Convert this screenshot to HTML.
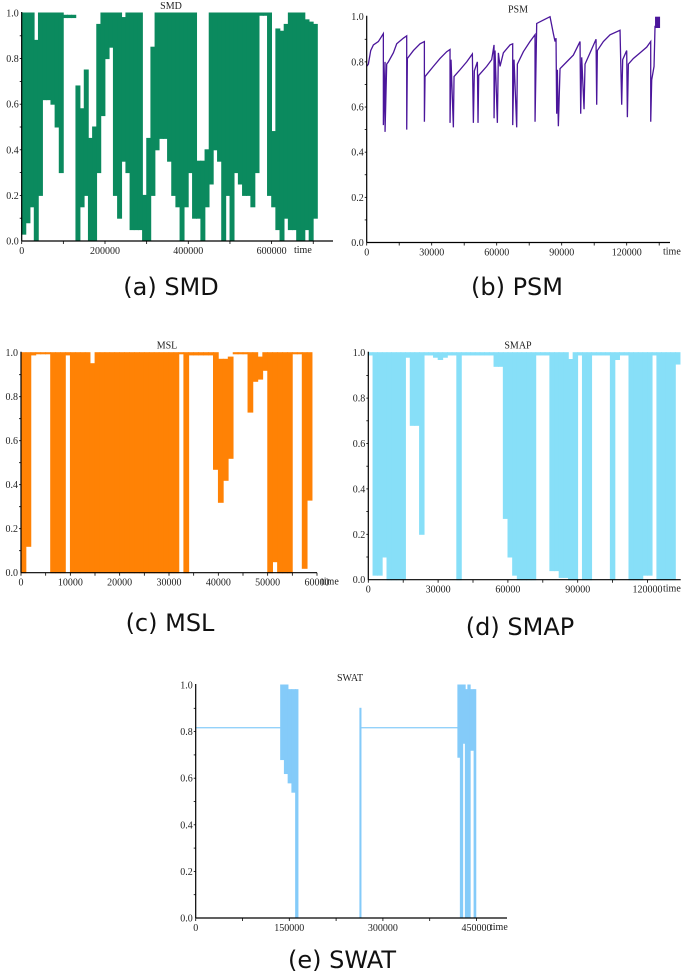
<!DOCTYPE html>
<html><head><meta charset="utf-8">
<style>
html,body{margin:0;padding:0;background:#fff;}
svg{display:block;}
.tk{font-family:"Liberation Serif",serif;font-size:10px;fill:#222;}
.cap{font-family:"DejaVu Sans",sans-serif;font-size:24px;fill:#111;}
</style></head>
<body>
<svg id="fig" width="685" height="976" viewBox="0 0 685 976" xmlns="http://www.w3.org/2000/svg"></svg>
<script>
// ---------- data ----------
const smdT = [];
for (let i = 0; i < 71; i++) smdT.push(i * 10000);
const smdLo = [0.03,0.08,0.15,0.0,0.2,0.62,0.62,0.6,0.5,0.3,0.98,0.98,0.98,0.0,0.15,0.2,0.0,0.0,0.3,0.55,0.8,0.85,0.2,0.1,0.35,0.3,0.05,0.05,0.05,0.0,0.0,0.2,0.4,0.45,0.45,0.35,0.2,0.15,0.0,0.15,0.3,0.1,0.1,0.0,0.15,0.25,0.4,0.35,0.0,0.2,0.0,0.3,0.25,0.2,0.2,0.15,0.3,0.99,0.99,0.2,0.15,0.05,0.0,0.1,0.05,0.05,0.0,0.0,0.05,0.0,0.1];
const smdHi = [1,1,1,0.88,1,1,1,1,1,1,0.99,0.99,0.99,0.68,0.58,0.75,0.45,0.5,0.95,1,1,1,1,1,0.98,1,1,1,1,0.2,0.45,0.85,1,1,1,1,1,1,1,1,1,1,0.35,0.35,0.4,1,1,1,1,1,1,1,1,1,1,1,1,1,1,1,0.48,0.93,0.92,0.95,1,1,1,1,0.97,0.96,0.95];

const psmT = [0,770,1850,3080,5380,7690,7700,8460,8470,9230,10000,12310,13850,16920,18460,18470,18770,21540,24620,26620,26630,26920,30770,33850,36920,38460,38470,38920,40000,40310,43080,46150,48770,49230,49690,51080,51380,51690,55380,57690,58770,58780,59230,60310,60770,61540,63080,66150,67380,67390,68000,69230,69540,72310,75380,77690,77700,78460,81540,84620,86150,86920,87380,87690,88000,88460,89230,92310,95380,98460,98770,99230,100310,100770,103080,105850,106150,106460,109230,112310,116920,117690,118150,120000,120310,120770,123080,126150,129230,131080,131090,131540,132620,133080];
const psmV = [0.78,0.79,0.85,0.875,0.89,0.925,0.52,0.80,0.49,0.79,0.80,0.84,0.88,0.905,0.915,0.50,0.815,0.85,0.88,0.89,0.535,0.735,0.78,0.815,0.845,0.855,0.53,0.81,0.51,0.735,0.765,0.80,0.835,0.53,0.76,0.80,0.53,0.74,0.78,0.81,0.875,0.55,0.85,0.53,0.84,0.78,0.84,0.875,0.88,0.52,0.81,0.51,0.79,0.845,0.89,0.92,0.535,0.97,0.985,1.0,0.925,0.89,0.905,0.57,0.765,0.515,0.77,0.80,0.83,0.89,0.57,0.82,0.59,0.79,0.84,0.90,0.61,0.85,0.89,0.92,0.94,0.61,0.81,0.85,0.555,0.79,0.815,0.84,0.865,0.89,0.535,0.72,0.78,0.96];
const psmBlockT = [133080, 135400];
const psmBlockV = [0.95, 1.0];

const mslT = [];
for (let i = 0; i < 59; i++) mslT.push(i * 1000);
const mslLo = [0,0.12,0.99,0.995,0.995,0.995,0,0,0,0.99,0,0,0,0,0,0,0,0,0,0,0,0,0,0,0,0,0,0,0,0,0,0,0.995,0,0.99,0.99,0.99,0.99,0.99,0.47,0.32,0.42,0.52,0.995,0.995,0.995,0.73,0.87,0.88,0.92,0,0.05,0,0,0,0.995,0.995,0.02,0.33];
const mslHi = [1,1,1,1,1,1,1,1,1,1,1,1,1,1,0.95,1,1,1,1,1,1,1,1,1,1,1,1,1,1,1,1,1,1,1,1,1,1,1,1,1,0.97,0.97,0.98,1,1,1,1,1,0.98,1,1,1,1,1,1,1,1,1,1];

const smapT = [];
for (let i = 0; i < 67; i++) smapT.push(i * 2000);
const smapLo = [0.99,0.02,0.02,0.1,0,0,0,0,0.98,0.68,0.68,0.2,0.99,0.99,0.98,0.97,0.98,0.99,0.99,0,0.99,0.99,0.99,0.99,0.99,0.99,0.99,0.94,0.94,0.27,0.1,0.02,0,0,0,0,0.99,0.99,0.99,0.04,0.04,0.01,0.01,0,0,0.99,0,0,0.99,0.99,0.99,0.99,0,0.97,0.99,0.99,0,0,0,0.02,0.02,0.99,0,0,0,0,0.95];
const smapHi = [1,1,1,1,1,1,1,1,1,1,1,1,1,1,1,1,1,1,1,1,1,1,1,1,1,1,1,1,1,1,1,1,1,1,1,1,1,1,1,1,1,1,1,0.97,1,1,1,1,1,1,1,1,1,1,1,1,1,1,1,1,1,1,1,1,1,1,1];

const swatT0 = [0,136000,142000,148000,154000,160000,263000,265000,420000,424000,428000,432000,436000,440000,446000];
const swatT1 = [136000,142000,148000,154000,160000,164000,265000,420000,424000,428000,432000,436000,440000,446000,449000];
const swatLo = [0.817,0.68,0.62,0.58,0.54,0.0,0.0,0.817,0.69,0.0,0.75,0.0,0.0,0.72,0.0];
const swatHi = [0.817,1.0,1.0,0.98,0.98,0.98,0.9,0.817,1.0,1.0,1.0,0.98,1.0,0.98,0.98];

const yTicks = [0,0.2,0.4,0.6,0.8,1.0];
const smdXTicks = [0,200000,400000,600000];
const psmXTicks = [0,30000,60000,90000,120000];
const mslXTicks = [0,10000,20000,30000,40000,50000,60000];
const smapXTicks = [0,30000,60000,90000,120000];
const swatXTicks = [0,150000,300000,450000];

// ---------- drawing ----------
const NS = "http://www.w3.org/2000/svg";
const svg = document.getElementById('fig');
function mk(tag, attrs, parent) {
  const e = document.createElementNS(NS, tag);
  for (const k in attrs) e.setAttribute(k, attrs[k]);
  (parent || svg).appendChild(e);
  return e;
}

function panel(cfg) {
  const g = mk('g', {});
  
  
  const X = t => cfg.x0 + t * cfg.k;
  const Y = v => cfg.yb + (cfg.yt - cfg.yb) * v;
  const sg = mk('g', {fill: cfg.color, stroke: 'none'}, g);
  
  
  if (cfg.bins) {
    const b = cfg.bins;
    for (let i = 0; i < b.t0.length; i++) {
      if (b.lo[i] === null) continue;
      const xa = X(b.t0[i]), xb = X(b.t1[i]);
      const ya = Y(b.hi[i]), yb2 = Y(b.lo[i]);
      const r = mk('rect', {x: xa - 0.4, y: ya - 0.5, width: Math.max(1, xb - xa + 0.8), height: Math.max(1.2, yb2 - ya + 1)}, sg);
      
      
    }
  }
  if (cfg.line) {
    const pts = cfg.line.t.map((t, i) => X(t).toFixed(2) + ',' + Y(cfg.line.v[i]).toFixed(2)).join(' ');
    const pl = mk('polyline', {points: pts, fill: 'none', stroke: cfg.color, 'stroke-width': 1.3}, sg);
    
    
  }
  if (cfg.block) {
    const r = mk('rect', {x: X(cfg.block.t[0]), y: Y(cfg.block.v[1]), width: X(cfg.block.t[1]) - X(cfg.block.t[0]), height: Y(cfg.block.v[0]) - Y(cfg.block.v[1])}, sg);
    
    
  }
  const ax = mk('g', {stroke: '#000', 'stroke-width': 1.2, fill: 'none'}, g);
  
  
  mk('line', {x1: cfg.x0, y1: cfg.yt - 1, x2: cfg.x0, y2: cfg.yb}, ax);
  mk('line', {x1: cfg.x0, y1: cfg.yb, x2: cfg.xe, y2: cfg.yb}, ax);
  for (let j = 1; j < 10; j++) {
    const yy = Y(j / 10);
    mk('line', {x1: cfg.x0 - 2, y1: yy, x2: cfg.x0, y2: yy, 'stroke-width': 0.8}, ax);
  }
  yTicks.forEach(v => {
    const t = mk('text', {x: cfg.x0 - 3, y: Y(v) + 3.5, 'text-anchor': 'end', class: 'tk'}, g);
    t.textContent = v.toFixed(1);
    
    
  });
  const step = cfg.xt[1] - cfg.xt[0];
  for (let v = 0; X(v) <= cfg.xe; v += step / 2) {
    mk('line', {x1: X(v), y1: cfg.yb, x2: X(v), y2: cfg.yb + 3, 'stroke-width': 0.8}, ax);
  }
  cfg.xt.forEach(v => {
    const t = mk('text', {x: X(v), y: cfg.yb + 13, 'text-anchor': 'middle', class: 'tk'}, g);
    t.textContent = String(v);
    
    
  });
  const tl = mk('text', {x: cfg.timeX, y: cfg.yb + 12, class: 'tk', 'font-size': '11'}, g);
  tl.textContent = 'time';
  
  
  const ti = mk('text', {x: cfg.titleX, y: cfg.yt - 4, 'text-anchor': 'middle', class: 'tk'}, g);
  ti.textContent = cfg.title;
  
  
  const cp = mk('text', {x: cfg.capX, y: cfg.capY, 'text-anchor': 'middle', class: 'cap'}, g);
  cp.textContent = cfg.caption;
  
  
}

function ends(t, w) { return t.map(v => v + w); }

panel({name: 'smd', title: 'SMD', caption: '(a) SMD', color: '#0b8a5e',
  x0: 21.7, k: 83.3 / 200000, yb: 241, yt: 13, xe: 333, xt: smdXTicks,
  bins: {t0: smdT, t1: ends(smdT, 10000), lo: smdLo, hi: smdHi},
  timeX: 294, titleX: 171, capX: 171, capY: 295});

panel({name: 'psm', title: 'PSM', caption: '(b) PSM', color: '#4b169b',
  x0: 366.7, k: 65 / 30000, yb: 242.5, yt: 16.7, xe: 670, xt: psmXTicks,
  line: {t: psmT, v: psmV}, block: {t: psmBlockT, v: psmBlockV},
  timeX: 663, titleX: 518, capX: 517, capY: 295});

panel({name: 'msl', title: 'MSL', caption: '(c) MSL', color: '#ff8205',
  x0: 21, k: 296 / 60000, yb: 572.7, yt: 352.7, xe: 317, xt: mslXTicks,
  bins: {t0: mslT, t1: ends(mslT, 1000), lo: mslLo, hi: mslHi},
  timeX: 321, titleX: 167, capX: 170, capY: 631});

panel({name: 'smap', title: 'SMAP', caption: '(d) SMAP', color: '#87dff8',
  x0: 368.3, k: 69.8 / 30000, yb: 579.7, yt: 352.7, xe: 680.7, xt: smapXTicks,
  bins: {t0: smapT, t1: ends(smapT, 2000), lo: smapLo, hi: smapHi},
  timeX: 663, titleX: 518, capX: 520, capY: 635});

panel({name: 'swat', title: 'SWAT', caption: '(e) SWAT', color: '#84cbf9',
  x0: 195.7, k: 93.6 / 150000, yb: 918, yt: 685, xe: 507, xt: swatXTicks,
  bins: {t0: swatT0, t1: swatT1, lo: swatLo, hi: swatHi},
  timeX: 490, titleX: 350, capX: 342, capY: 968});
</script>
</body></html>
